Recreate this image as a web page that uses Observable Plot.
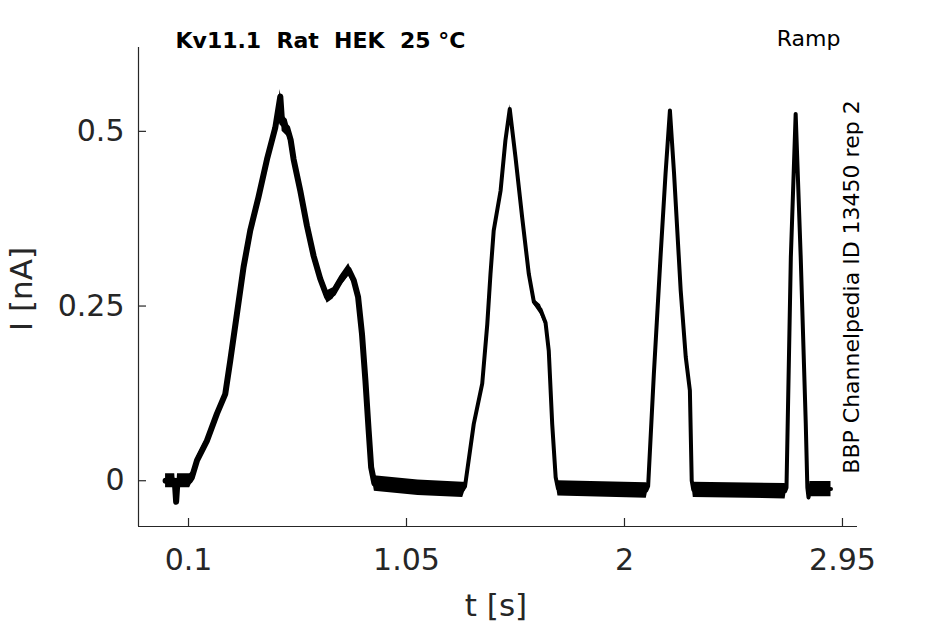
<!DOCTYPE html>
<html><head><meta charset="utf-8">
<script src="https://cdn.jsdelivr.net/npm/d3@7"></script>
<script src="https://cdn.jsdelivr.net/npm/@observablehq/plot@0.6"></script>
<style>body{margin:0;background:#fff} svg text{white-space:pre}</style>
</head><body><div id="chart"></div>
<script>
// Trace: time (s), current (nA), noise half-width (nA)
const tTrace = [0.000,0.040,0.046,0.052,0.105,0.115,0.137,0.180,0.224,0.260,0.282,0.311,0.340,0.369,0.405,0.442,0.478,0.500,0.508,0.530,0.545,0.558,0.587,0.616,0.645,0.674,0.704,0.730,0.760,0.798,0.820,0.839,0.856,0.871,0.885,0.896,0.910,1.100,1.295,
  1.305,1.343,1.380,1.402,1.416,1.430,1.460,1.481,1.500,1.525,1.554,1.583,1.605,1.634,1.656,1.670,1.685,1.700,1.710,2.095,
  2.103,2.128,2.157,2.179,2.198,2.216,2.245,2.267,2.285,2.293,2.300,2.700,
  2.706,2.725,2.746,2.768,2.790,2.797,2.802,2.808,2.900];
const iTrace = [0.000,0.000,-0.030,0.000,0.000,0.005,0.029,0.057,0.096,0.124,0.172,0.239,0.306,0.358,0.406,0.460,0.505,0.550,0.512,0.505,0.488,0.460,0.415,0.365,0.322,0.289,0.263,0.268,0.285,0.302,0.287,0.263,0.210,0.143,0.072,0.019,-0.004,-0.010,-0.013,
  -0.008,0.081,0.139,0.224,0.296,0.358,0.415,0.487,0.532,0.463,0.377,0.296,0.256,0.245,0.226,0.186,0.081,0.005,-0.011,-0.014,
  -0.008,0.153,0.320,0.440,0.530,0.440,0.272,0.177,0.129,0.000,-0.013,-0.015,
  -0.010,0.320,0.525,0.320,0.082,-0.010,-0.024,-0.012,-0.012];
const wTrace = [0.010,0.010,0.005,0.010,0.010,0.008,0.006,0.006,0.006,0.006,0.006,0.006,0.006,0.006,0.006,0.006,0.008,0.010,0.012,0.012,0.010,0.008,0.006,0.006,0.006,0.007,0.009,0.008,0.008,0.009,0.007,0.005,0.004,0.004,0.004,0.006,0.011,0.011,0.011,
  0.006,0.004,0.004,0.003,0.003,0.003,0.003,0.003,0.006,0.003,0.003,0.003,0.004,0.007,0.005,0.003,0.003,0.005,0.011,0.011,
  0.004,0.002,0.002,0.002,0.002,0.002,0.002,0.002,0.002,0.004,0.011,0.011,
  0.003,0.002,0.002,0.002,0.002,0.003,0.004,0.011,0.011];
// the first (slow-ramp) response is recorded noisier: its trace is drawn thicker
const noisyUntil = 0.91;

const xTicks = [0.1, 1.05, 2, 2.95];
const xTickLabels = ["0.1", "1.05", "2", "2.95"];
const yTicks = [0, 0.25, 0.5];
const yTickLabels = ["0", "0.25", "0.5"];
const titleText = "Kv11.1  Rat  HEK  25 °C";
const protocolText = "Ramp";
const sourceText = "BBP Channelpedia ID 13450 rep 2";
const xLabel = "t [s]";
const yLabel = "I [nA]";
const xDomain = [-0.118, 3.0155];
const yDomain = [-0.0655, 0.62];

const W = 945, H = 624, ML = 138, MR = 88, MT = 47, MB = 98;
const ink = "#262626";
const trace = tTrace.map((t, i) => ({t, I: iTrace[i], lo: iTrace[i] - wTrace[i], hi: iTrace[i] + wTrace[i]}));
const noisy = trace.filter(d => d.t <= noisyUntil);

const chart = Plot.plot({
  width: W, height: H,
  marginLeft: ML, marginRight: MR, marginTop: MT, marginBottom: MB,
  style: {fontFamily: "DejaVu Sans", background: "#fff", color: ink, overflow: "visible"},
  x: {domain: xDomain},
  y: {domain: yDomain},
  marks: [
    Plot.areaY(trace, {x: "t", y1: "lo", y2: "hi", fill: "#000"}),
    Plot.line(trace, {x: "t", y: "I", stroke: "#000", strokeWidth: 4, strokeLinejoin: "round"}),
    Plot.line(noisy, {x: "t", y: "I", stroke: "#000", strokeWidth: 6, strokeLinejoin: "round"}),
    Plot.ruleX([xDomain[0]], {stroke: ink, strokeWidth: 1.2}),
    Plot.ruleY([yDomain[0]], {stroke: ink, strokeWidth: 1.2}),
    Plot.tickX(xTicks, {x: d => d, stroke: ink, strokeWidth: 1.2, insetTop: H - MT - MB - 8}),
    Plot.tickY(yTicks, {y: d => d, stroke: ink, strokeWidth: 1.2, insetRight: W - ML - MR - 8}),
    Plot.axisX({ticks: xTicks, tickFormat: d => xTickLabels[xTicks.indexOf(d)], tickSize: 0, tickPadding: 22, fontSize: 30, label: null}),
    Plot.axisY({ticks: yTicks, tickFormat: d => yTickLabels[yTicks.indexOf(d)], tickSize: 0, tickPadding: 14, fontSize: 30, label: null}),
    Plot.text([xLabel], {text: d => d, frameAnchor: "bottom", dx: -2, dy: 80, textAnchor: "middle", lineAnchor: "middle", fontSize: 31, fill: ink}),
    Plot.text([yLabel], {text: d => d, frameAnchor: "left", dx: -116, dy: 2, rotate: -90, textAnchor: "middle", lineAnchor: "middle", fontSize: 31, fill: ink}),
    Plot.text([titleText], {text: d => d, frameAnchor: "top-left", dx: 37, dy: -7, textAnchor: "start", lineAnchor: "middle", fontWeight: "bold", fontSize: 22, fill: "#000"}),
    Plot.text([protocolText], {text: d => d, frameAnchor: "top-right", dx: -17, dy: -9, textAnchor: "end", lineAnchor: "middle", fontSize: 22, fill: "#000"}),
    Plot.text([sourceText], {text: d => d, frameAnchor: "right", dx: -6, rotate: -90, textAnchor: "middle", lineAnchor: "middle", fontSize: 22, fill: "#000"})
  ]
});
document.getElementById("chart").append(chart);
</script>
</body></html>
